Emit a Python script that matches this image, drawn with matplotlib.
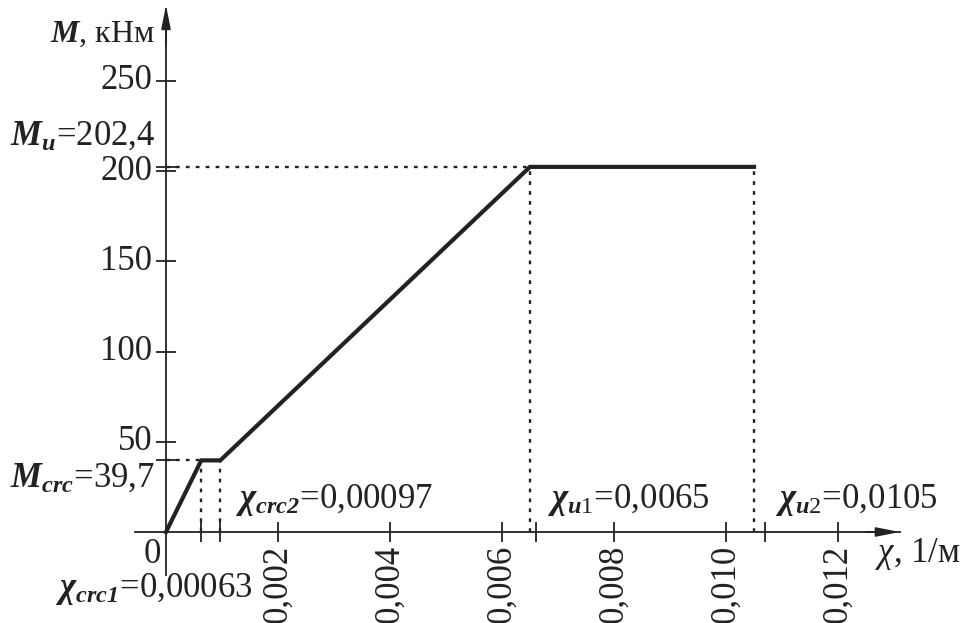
import numpy as np
import matplotlib
matplotlib.use("Agg")
import matplotlib.pyplot as plt

plt.rcParams['font.family'] = ['Liberation Serif', 'DejaVu Serif']
plt.rcParams['mathtext.fontset'] = 'custom'
plt.rcParams['mathtext.rm'] = 'Liberation Serif'
plt.rcParams['mathtext.it'] = 'Liberation Serif:italic'
plt.rcParams['mathtext.bf'] = 'Liberation Serif:bold'
plt.rcParams['mathtext.bfit'] = 'Liberation Serif:italic:bold'

# moment-curvature diagram
chi = [0.0, 0.00063, 0.00097, 0.0065, 0.0105]
M = [0.0, 39.7, 39.7, 202.4, 202.4]

xticks = [0.002, 0.004, 0.006, 0.008, 0.010, 0.012]
xlabels = ['0,002', '0,004', '0,006', '0,008', '0,010', '0,012']
xminor = [0.00063, 0.00097, 0.0066, 0.0107]
yticks = [50, 100, 150, 200, 250]
ylabels = ['50', '100', '150', '200', '250']
yminor = [39.7, 202.4]

W, H = 968, 623
fig = plt.figure(figsize=(W/100, H/100), dpi=100)
ax = fig.add_axes([0, 0, 1, 1])
# pixel scale: origin at (166, 532), 0.002 per 112 px, 250 per 451 px
sx = 56000.0
sy = 451/250.
ax.set_xlim(-166/sx, (W-166)/sx)
ax.set_ylim(-(H-532)/sy, 532/sy)

for s in ['top', 'right']:
    ax.spines[s].set_visible(False)
ax.spines['left'].set_position(('data', 0))
ax.spines['bottom'].set_position(('data', 0))
ax.spines['left'].set_bounds(-(575-532)/sy, 290)
ax.spines['bottom'].set_bounds(-31/sx, 0.0131)
ax.spines['left'].set_linewidth(1.3)
ax.spines['bottom'].set_linewidth(1.3)
ax.spines['left'].set_color('#222222')
ax.spines['bottom'].set_color('#222222')

ax.annotate('', xy=(0, 292), xytext=(0, 270),
            arrowprops=dict(arrowstyle='-|>,head_length=0.7,head_width=0.14',
                            color='#222222', lw=1.3, shrinkA=0, shrinkB=0,
                            mutation_scale=20))
ax.annotate('', xy=(0.0131, 0), xytext=(0.0125, 0),
            arrowprops=dict(arrowstyle='-|>,head_length=0.7,head_width=0.14',
                            color='#222222', lw=1.3, shrinkA=0, shrinkB=0,
                            mutation_scale=20))

ax.set_xticks(xticks)
ax.set_xticklabels(xlabels, rotation=90, fontsize=25, va='top',
                   color='#222222')
ax.set_xticks(xminor, minor=True)
ax.set_yticks(yticks)
ax.set_yticklabels(ylabels, fontsize=25, va='center', color='#222222')
ax.set_yticks(yminor, minor=True)
ax.tick_params(which='both', direction='inout', length=14, width=1.3,
               color='#222222', pad=2)
ax.tick_params(axis='y', pad=3)

# dotted helper lines
dot = dict(color='#222222', lw=1.7, dashes=(1.6, 2.6))
ax.plot([0, chi[1]], [M[1], M[1]], **dot)
ax.plot([0, chi[3]], [M[3], M[3]], **dot)
for c, m in zip(chi[1:], M[1:]):
    ax.plot([c, c], [0, m], **dot)

ax.plot(chi, M, color='#222222', lw=3, solid_joinstyle='miter', zorder=5)

def ftext(px, py, s, ha='left', size=25):
    fig.text(px/W, 1 - py/H, s, ha=ha, va='baseline', fontsize=size,
             color='#222222')

ftext(155, 42, r'$\mathbfit{M}$, кНм', ha='right', size=23)
ftext(155, 145, r'$\mathbfit{M}_{\mathbfit{u}}$=202,4', ha='right')
ftext(155, 487, r'$\mathbfit{M}_{\mathbfit{crc}}$=39,7', ha='right')
ftext(161, 563, '0', ha='right')
ftext(55, 597, r'$\mathbfit{\chi}_{\mathbfit{crc1}}$=0,00063')
ftext(235, 508, r'$\mathbfit{\chi}_{\mathbfit{crc2}}$=0,00097')
ftext(547, 508, r'$\mathbfit{\chi}_{\mathbfit{u}\mathrm{1}}$=0,0065')
ftext(775, 508, r'$\mathbfit{\chi}_{\mathbfit{u}\mathrm{2}}$=0,0105')
ftext(875, 562, r'$\mathit{\chi}$, 1/м')

fig.savefig('out.png', dpi=100)
